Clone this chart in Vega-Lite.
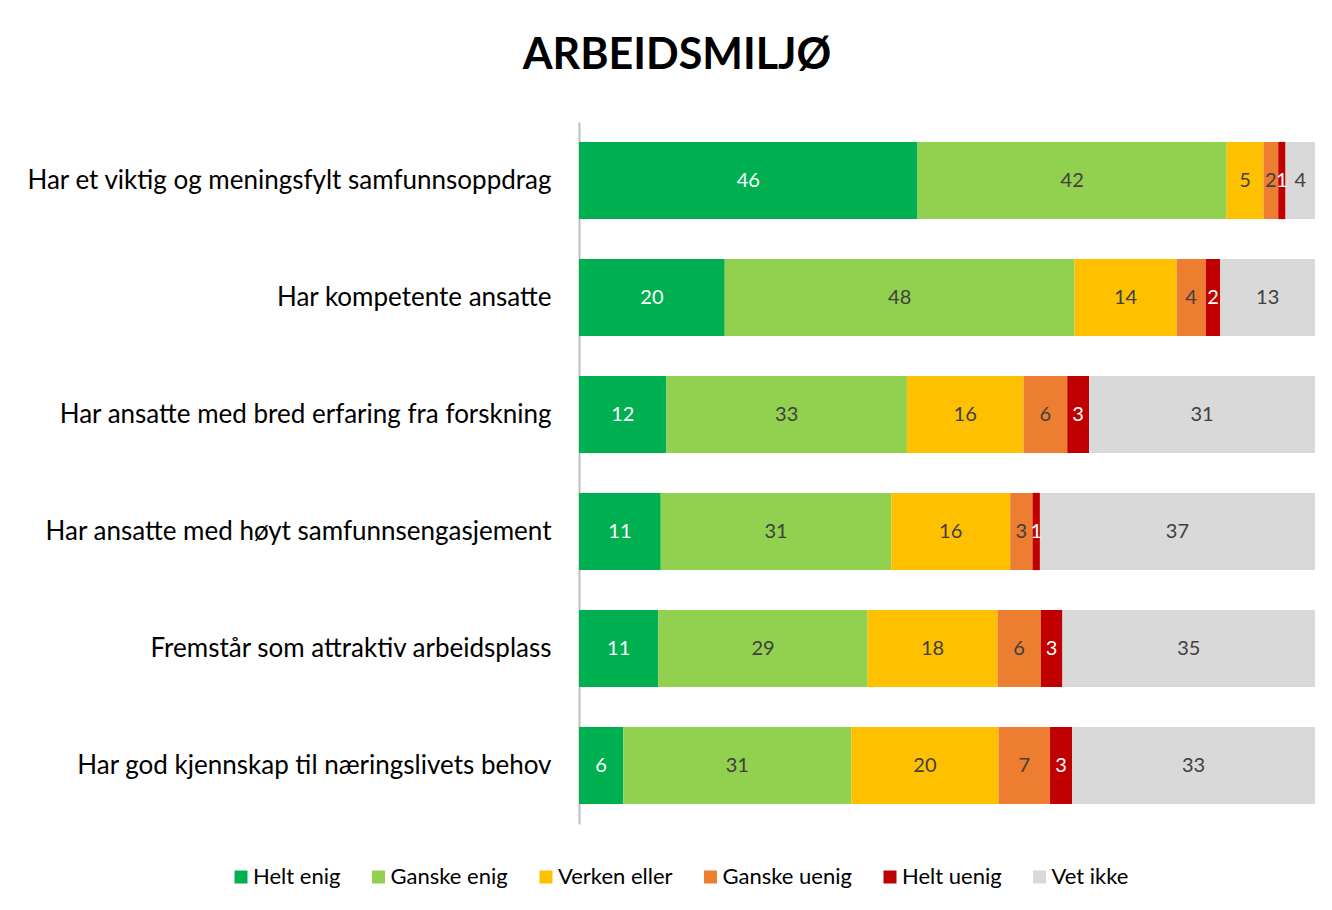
{
  "$schema": "https://vega.github.io/schema/vega-lite/v6.json",
  "autosize": "none",
  "width": 736,
  "height": 702,
  "padding": {"left": 579, "top": 122, "right": 17, "bottom": 86},
  "background": "white",
  "config": {"view": {"stroke": null}, "font": "Lato"},
  "title": {
    "text": "ARBEIDSMILJØ",
    "font": "Lato",
    "fontSize": 43,
    "fontWeight": "bold",
    "color": "#000000",
    "anchor": "middle",
    "frame": "group",
    "dx": -270,
    "offset": 44
  },
  "data": {
    "values": [
      {"item": "Har et viktig og meningsfylt samfunnsoppdrag", "svar": "Helt enig", "value": 46},
      {"item": "Har et viktig og meningsfylt samfunnsoppdrag", "svar": "Ganske enig", "value": 42},
      {"item": "Har et viktig og meningsfylt samfunnsoppdrag", "svar": "Verken eller", "value": 5},
      {"item": "Har et viktig og meningsfylt samfunnsoppdrag", "svar": "Ganske uenig", "value": 2},
      {"item": "Har et viktig og meningsfylt samfunnsoppdrag", "svar": "Helt uenig", "value": 1},
      {"item": "Har et viktig og meningsfylt samfunnsoppdrag", "svar": "Vet ikke", "value": 4},
      {"item": "Har kompetente ansatte", "svar": "Helt enig", "value": 20},
      {"item": "Har kompetente ansatte", "svar": "Ganske enig", "value": 48},
      {"item": "Har kompetente ansatte", "svar": "Verken eller", "value": 14},
      {"item": "Har kompetente ansatte", "svar": "Ganske uenig", "value": 4},
      {"item": "Har kompetente ansatte", "svar": "Helt uenig", "value": 2},
      {"item": "Har kompetente ansatte", "svar": "Vet ikke", "value": 13},
      {"item": "Har ansatte med bred erfaring fra forskning", "svar": "Helt enig", "value": 12},
      {"item": "Har ansatte med bred erfaring fra forskning", "svar": "Ganske enig", "value": 33},
      {"item": "Har ansatte med bred erfaring fra forskning", "svar": "Verken eller", "value": 16},
      {"item": "Har ansatte med bred erfaring fra forskning", "svar": "Ganske uenig", "value": 6},
      {"item": "Har ansatte med bred erfaring fra forskning", "svar": "Helt uenig", "value": 3},
      {"item": "Har ansatte med bred erfaring fra forskning", "svar": "Vet ikke", "value": 31},
      {"item": "Har ansatte med høyt samfunnsengasjement", "svar": "Helt enig", "value": 11},
      {"item": "Har ansatte med høyt samfunnsengasjement", "svar": "Ganske enig", "value": 31},
      {"item": "Har ansatte med høyt samfunnsengasjement", "svar": "Verken eller", "value": 16},
      {"item": "Har ansatte med høyt samfunnsengasjement", "svar": "Ganske uenig", "value": 3},
      {"item": "Har ansatte med høyt samfunnsengasjement", "svar": "Helt uenig", "value": 1},
      {"item": "Har ansatte med høyt samfunnsengasjement", "svar": "Vet ikke", "value": 37},
      {"item": "Fremstår som attraktiv arbeidsplass", "svar": "Helt enig", "value": 11},
      {"item": "Fremstår som attraktiv arbeidsplass", "svar": "Ganske enig", "value": 29},
      {"item": "Fremstår som attraktiv arbeidsplass", "svar": "Verken eller", "value": 18},
      {"item": "Fremstår som attraktiv arbeidsplass", "svar": "Ganske uenig", "value": 6},
      {"item": "Fremstår som attraktiv arbeidsplass", "svar": "Helt uenig", "value": 3},
      {"item": "Fremstår som attraktiv arbeidsplass", "svar": "Vet ikke", "value": 35},
      {"item": "Har god kjennskap til næringslivets behov", "svar": "Helt enig", "value": 6},
      {"item": "Har god kjennskap til næringslivets behov", "svar": "Ganske enig", "value": 31},
      {"item": "Har god kjennskap til næringslivets behov", "svar": "Verken eller", "value": 20},
      {"item": "Har god kjennskap til næringslivets behov", "svar": "Ganske uenig", "value": 7},
      {"item": "Har god kjennskap til næringslivets behov", "svar": "Helt uenig", "value": 3},
      {"item": "Har god kjennskap til næringslivets behov", "svar": "Vet ikke", "value": 33}
    ]
  },
  "transform": [
    {"stack": "value", "groupby": ["item"], "offset": "normalize", "as": ["s0", "s1"]},
    {"calculate": "(datum.s0 + datum.s1) / 2", "as": "mid"}
  ],
  "encoding": {
    "y": {
      "field": "item",
      "type": "nominal",
      "sort": null,
      "title": null,
      "scale": {"paddingInner": 0.34, "paddingOuter": 0.17},
      "axis": {
        "domainColor": "#bfbfbf",
        "domainWidth": 2,
        "ticks": false,
        "labelFont": "Lato",
        "labelFontSize": 26,
        "labelColor": "#000000",
        "labelPadding": 28,
        "labelLimit": 600
      }
    }
  },
  "layer": [
    {
      "mark": {"type": "bar"},
      "encoding": {
        "x": {"field": "s0", "type": "quantitative", "scale": {"domain": [0, 1], "nice": false}, "axis": null},
        "x2": {"field": "s1"},
        "color": {
          "field": "svar",
          "type": "nominal",
          "scale": {
            "domain": ["Helt enig", "Ganske enig", "Verken eller", "Ganske uenig", "Helt uenig", "Vet ikke"],
            "range": ["#00B050", "#92D050", "#FFC000", "#ED7D31", "#C00000", "#D9D9D9"]
          },
          "legend": {
            "title": null,
            "orient": "none",
            "direction": "horizontal",
            "legendX": -349,
            "legendY": 744,
            "symbolType": "square",
            "symbolSize": 169,
            "symbolStrokeWidth": 0,
            "labelFont": "Lato",
            "labelFontSize": 22,
            "labelColor": "#000000",
            "labelOffset": 1,
            "columnPadding": 26.5,
            "labelLimit": 300
          }
        }
      }
    },
    {
      "mark": {"type": "text", "font": "Lato", "fontSize": 20, "align": "center", "baseline": "middle"},
      "encoding": {
        "x": {"field": "mid", "type": "quantitative"},
        "text": {"field": "value", "type": "quantitative"},
        "color": {
          "condition": {"test": "datum.svar === 'Helt enig' || datum.svar === 'Helt uenig'", "value": "#ffffff"},
          "value": "#404040"
        }
      }
    }
  ]
}
